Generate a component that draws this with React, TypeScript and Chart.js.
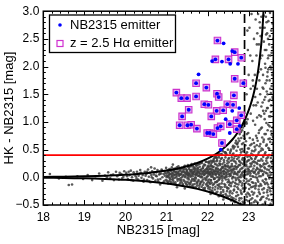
import React, { useEffect, useRef } from 'react';
import { Chart, registerables } from 'chart.js';

Chart.register(...registerables);

const FONT = "'Liberation Sans', Arial, Helvetica, sans-serif";

// axis ticks
const xTicks = [18, 19, 20, 21, 22, 23];
const xMinorTicks = [18.2, 18.4, 18.6, 18.8, 19.2, 19.4, 19.6, 19.8, 20.2, 20.4, 20.6, 20.8, 21.2, 21.4, 21.6, 21.8, 22.2, 22.4, 22.6, 22.8, 23.2, 23.4];
const yTicks = [-0.5, 0, 0.5, 1, 1.5, 2, 2.5, 3];
const yTickLabels = ['−0.5', '0.0', '0.5', '1.0', '1.5', '2.0', '2.5', '3.0'];
const yMinorTicks = [-0.4, -0.3, -0.2, -0.1, 0.1, 0.2, 0.3, 0.4, 0.6, 0.7, 0.8, 0.9, 1.1, 1.2, 1.3, 1.4, 1.6, 1.7, 1.8, 1.9, 2.1, 2.2, 2.3, 2.4, 2.6, 2.7, 2.8, 2.9];

// NB2315 emitters (blue dots)
const nbMag = [22.24, 22.39, 22.60, 22.66, 22.82, 22.11, 22.19, 22.35, 22.51, 22.55, 22.74, 21.78, 22.66, 21.72, 21.97, 21.24, 21.36, 21.50, 21.72, 22.23, 22.27, 22.64, 22.87, 21.92, 22.02, 22.48, 22.62, 22.77, 22.22, 22.38, 22.60, 21.54, 21.38, 22.09, 22.44, 22.54, 22.71, 22.82, 21.32, 21.51, 21.60, 21.74, 22.24, 22.32, 22.71, 22.54, 22.78, 21.99, 22.05, 22.14, 22.35, 22.32];
const nbColor = [2.47, 2.42, 2.28, 2.26, 2.16, 2.10, 2.13, 2.09, 2.13, 2.05, 2.05, 1.86, 1.78, 1.70, 1.62, 1.53, 1.43, 1.43, 1.46, 1.51, 1.45, 1.48, 1.70, 1.32, 1.31, 1.32, 1.31, 1.25, 1.20, 1.21, 1.20, 1.22, 1.10, 1.10, 1.05, 0.96, 1.03, 1.12, 0.94, 0.94, 0.95, 0.88, 0.89, 0.92, 0.87, 0.80, 0.93, 0.80, 0.80, 0.78, 0.62, 0.50];

// z = 2.5 Halpha emitters (squares)
const haMag = [22.24, 22.66, 22.82, 22.19, 22.51, 22.66, 21.72, 21.97, 21.24, 21.36, 21.50, 21.72, 22.23, 22.27, 22.64, 22.87, 21.92, 22.02, 22.48, 22.62, 22.22, 22.38, 21.54, 21.38, 22.09, 22.54, 22.71, 22.82, 21.32, 21.51, 21.60, 21.74, 22.24, 22.32, 22.71, 21.99, 22.05, 22.14, 22.35];
const haColor = [2.47, 2.26, 2.16, 2.13, 2.13, 1.78, 1.70, 1.62, 1.53, 1.43, 1.43, 1.46, 1.51, 1.45, 1.48, 1.70, 1.32, 1.31, 1.32, 1.31, 1.20, 1.21, 1.22, 1.10, 1.10, 0.96, 1.03, 1.12, 0.94, 0.94, 0.95, 0.88, 0.89, 0.92, 0.87, 0.80, 0.80, 0.78, 0.62];

// significance curves
const curveMag = [18, 18.5, 19, 19.5, 20, 20.5, 21, 21.25, 21.5, 21.75, 22, 22.15, 22.3, 22.45, 22.6, 22.7, 22.8, 22.85, 22.9, 22.95, 23.0, 23.05, 23.1, 23.15, 23.2, 23.25, 23.3, 23.33, 23.36, 23.38];
const curveUpper = [0.007, 0.012, 0.019, 0.029, 0.047, 0.075, 0.122, 0.156, 0.201, 0.259, 0.338, 0.398, 0.472, 0.563, 0.678, 0.773, 0.888, 0.954, 1.03, 1.114, 1.209, 1.319, 1.448, 1.601, 1.788, 2.028, 2.353, 2.614, 2.981, 3.32];
const curveLowerMag = [18, 18.5, 19, 19.5, 20, 20.5, 21, 21.25, 21.5, 21.75, 22, 22.15, 22.3, 22.45, 22.6, 22.7, 22.8, 22.85, 22.9];
const curveLower = [-0.007, -0.012, -0.018, -0.029, -0.045, -0.071, -0.110, -0.137, -0.169, -0.209, -0.257, -0.291, -0.328, -0.369, -0.414, -0.447, -0.482, -0.5, -0.519];

const colorCut = 0.4;
const magLimit = 22.9;
const xRange = [18, 23.6];
const yRange = [-0.5, 3.0];

// all detected objects (gray), [mag, color]
const cloudBright = [
  [18.16, 0.06], [18.38, -0.02], [18.55, 0.01], [18.62, -0.14], [18.7, -0.13], [18.83, 0.02], [18.97, -0.03], [19.08, 0.04], [19.19, -0.05], [19.27, 0.02], [19.36, 0.07], [19.44, -0.06], [19.5, 0.03], [19.58, 0.09], [19.63, -0.02], [19.7, 0.05], [19.77, 0.1], [19.84, -0.04], [19.9, 0.06], [19.95, 0.01],
  [20.02, 0.08], [20.06, -0.03], [20.1, 0.04], [20.13, 0.12], [20.16, 0.0], [20.19, -0.06], [20.22, 0.05], [20.25, 0.02], [20.28, 0.1], [20.31, -0.04], [20.34, 0.07], [20.36, 0.13], [20.39, -0.01], [20.42, 0.04], [20.44, -0.08], [20.47, 0.1], [20.49, 0.03],
  [19.55, 0.0], [19.65, 0.04], [19.72, -0.05], [19.8, 0.02], [19.86, 0.08], [19.92, -0.02], [19.97, 0.11], [20.04, 0.02], [20.08, 0.1], [20.14, -0.05], [20.2, 0.09], [20.27, -0.02], [20.32, 0.03], [20.38, 0.08], [20.45, -0.04],
];
const cloudMid = [
  [20.51, 0.06], [20.53, -0.05], [20.55, 0.14], [20.57, 0.01], [20.59, 0.08], [20.61, -0.09], [20.63, 0.04], [20.65, 0.11], [20.67, -0.02], [20.69, 0.05], [20.71, 0.16], [20.73, -0.06], [20.75, 0.09], [20.76, 0.02], [20.78, 0.13], [20.8, -0.07], [20.82, 0.05], [20.83, 0.1], [20.85, -0.03], [20.87, 0.07], [20.88, 0.14], [20.9, 0.0], [20.92, -0.1], [20.93, 0.06], [20.95, 0.11], [20.96, 0.03], [20.98, -0.05], [20.99, 0.17],
  [20.52, 0.1], [20.58, -0.07], [20.64, 0.0], [20.7, 0.09], [20.74, 0.03], [20.79, -0.04], [20.84, 0.06], [20.89, 0.12], [20.94, -0.07], [20.97, 0.08],
  [21.0, 0.07], [21.01, -0.06], [21.02, 0.12], [21.03, 0.02], [21.04, -0.11], [21.05, 0.09], [21.06, 0.04], [21.07, 0.15], [21.08, -0.02], [21.09, 0.06], [21.1, -0.08], [21.11, 0.11], [21.12, 0.01], [21.13, 0.18], [21.14, -0.04], [21.15, 0.08], [21.16, 0.13], [21.17, -0.1], [21.18, 0.05], [21.19, 0.1], [21.2, -0.01], [21.21, 0.16], [21.22, 0.05], [21.23, -0.13], [21.24, 0.09], [21.25, 0.03], [21.26, 0.14], [21.27, -0.06], [21.28, 0.07], [21.29, 0.2], [21.3, -0.03], [21.31, 0.11], [21.32, 0.04], [21.33, -0.11], [21.34, 0.13], [21.35, 0.06], [21.36, -0.05], [21.37, 0.17], [21.38, 0.0], [21.39, 0.09], [21.4, -0.14], [21.41, 0.12], [21.42, 0.04], [21.43, 0.19], [21.44, -0.07], [21.45, 0.08], [21.46, 0.02], [21.47, 0.15], [21.48, -0.12], [21.49, 0.06],
  [21.005, 0.0], [21.035, 0.09], [21.065, -0.07], [21.095, 0.14], [21.125, 0.04], [21.155, -0.02], [21.185, 0.12], [21.215, -0.09], [21.245, 0.06], [21.275, 0.16], [21.305, 0.03], [21.335, -0.06], [21.365, 0.1], [21.395, -0.12], [21.425, 0.15], [21.455, 0.0], [21.485, 0.09], [20.625, 0.18], [20.845, -0.13], [21.155, 0.23], [21.255, -0.18], [21.445, -0.2],
  [21.012, 0.03], [21.028, -0.08], [21.043, 0.1], [21.058, 0.0], [21.074, 0.06], [21.089, -0.04], [21.104, 0.13], [21.118, -0.1], [21.133, 0.07], [21.149, 0.02], [21.163, -0.06], [21.178, 0.15], [21.193, 0.04], [21.207, -0.12], [21.222, 0.1], [21.237, 0.0], [21.252, 0.18], [21.266, -0.03], [21.281, 0.09], [21.296, -0.14], [21.311, 0.06], [21.326, 0.14], [21.341, -0.02], [21.356, 0.05], [21.371, -0.09], [21.386, 0.16], [21.401, 0.03], [21.416, -0.05], [21.431, 0.1], [21.446, 0.21], [21.461, -0.1], [21.476, 0.05], [21.491, 0.13],
];
const cloudFaint = [
  [21.5, 0.12], [21.51, -0.02], [21.52, 0.22], [21.53, 0.04], [21.54, -0.1], [21.55, 0.15], [21.56, 0.07], [21.57, -0.17], [21.58, 0.1], [21.59, 0.01], [21.6, 0.2], [21.61, -0.06], [21.62, 0.08], [21.63, 0.14], [21.64, -0.13], [21.65, 0.05], [21.66, 0.18], [21.67, -0.03], [21.68, 0.11], [21.69, 0.25], [21.7, 0.0], [21.71, -0.18], [21.72, 0.08], [21.73, 0.16], [21.74, -0.09], [21.75, 0.12], [21.76, 0.03], [21.77, 0.23], [21.78, -0.05], [21.79, 0.1], [21.8, -0.15], [21.81, 0.19], [21.82, 0.06], [21.83, -0.1], [21.84, 0.14], [21.85, 0.02], [21.86, 0.26], [21.87, -0.07], [21.88, 0.09], [21.89, 0.17], [21.9, -0.2], [21.91, 0.04], [21.92, 0.12], [21.93, -0.02], [21.94, 0.22], [21.95, 0.07], [21.96, -0.13], [21.97, 0.15], [21.98, 0.01], [21.99, 0.1],
  [21.505, -0.08], [21.515, 0.09], [21.525, 0.03], [21.535, 0.18], [21.545, -0.04], [21.555, 0.06], [21.565, -0.13], [21.575, 0.13], [21.585, 0.2], [21.595, -0.08], [21.605, 0.04], [21.615, 0.11], [21.625, -0.16], [21.635, 0.02], [21.645, 0.21], [21.655, 0.08], [21.665, -0.06], [21.675, 0.15], [21.685, -0.12], [21.695, 0.05], [21.705, 0.13], [21.715, -0.02], [21.725, 0.21], [21.735, 0.06], [21.745, -0.15], [21.755, 0.1], [21.765, 0.17], [21.775, -0.07], [21.785, 0.03], [21.795, 0.24], [21.805, 0.08], [21.815, -0.12], [21.825, 0.13], [21.835, 0.0], [21.845, 0.27], [21.855, -0.17], [21.865, 0.06], [21.875, 0.16], [21.885, -0.04], [21.895, 0.11], [21.905, -0.1], [21.915, 0.23], [21.925, 0.05], [21.935, -0.19], [21.945, 0.13], [21.955, -0.05], [21.965, 0.28], [21.975, 0.08], [21.985, -0.11], [21.995, 0.18],
  [21.506, -0.14], [21.521, 0.07], [21.536, -0.01], [21.551, 0.19], [21.566, 0.03], [21.581, -0.11], [21.596, 0.12], [21.611, 0.24], [21.626, -0.03], [21.641, 0.07], [21.656, -0.17], [21.671, 0.1], [21.686, 0.17], [21.701, -0.06], [21.716, 0.04], [21.731, 0.22], [21.746, -0.11], [21.761, 0.08], [21.776, 0.14], [21.791, -0.19], [21.806, 0.02], [21.821, 0.25], [21.836, -0.08], [21.851, 0.11], [21.866, 0.0], [21.881, -0.14], [21.896, 0.2], [21.911, 0.07], [21.926, -0.22], [21.941, 0.1], [21.956, 0.28], [21.971, -0.02], [21.986, 0.15], [21.998, -0.16],
];
const cloudMedium = [
  [22.0, 0.12], [22.01, -0.15], [22.02, 0.05], [22.03, 0.28], [22.04, -0.04], [22.05, 0.16], [22.06, -0.22], [22.07, 0.09], [22.08, 0.3], [22.09, 0.01], [22.1, -0.1], [22.11, 0.2], [22.12, 0.06], [22.13, -0.27], [22.14, 0.13], [22.15, 0.33], [22.16, -0.03], [22.17, 0.1], [22.18, 0.24], [22.19, -0.17], [22.2, 0.04], [22.21, 0.17], [22.22, -0.08], [22.23, 0.31], [22.24, 0.07], [22.25, -0.2], [22.26, 0.14], [22.27, 0.0], [22.28, 0.42], [22.29, -0.12], [22.3, 0.22], [22.31, 0.08], [22.32, -0.3], [22.33, 0.15], [22.34, 0.03], [22.35, 0.35], [22.36, -0.06], [22.37, 0.19], [22.38, -0.23], [22.39, 0.11], [22.4, 0.27], [22.41, -0.01], [22.42, 0.45], [22.43, -0.14], [22.44, 0.09], [22.45, 0.2], [22.46, -0.33], [22.47, 0.05], [22.48, 0.3], [22.49, -0.09],
  [22.005, 0.02], [22.015, 0.21], [22.025, -0.09], [22.035, 0.1], [22.045, 0.28], [22.055, -0.18], [22.065, 0.04], [22.075, 0.15], [22.085, -0.05], [22.095, 0.26], [22.105, 0.08], [22.115, -0.24], [22.125, 0.18], [22.135, 0.0], [22.145, 0.3], [22.155, -0.12], [22.165, 0.11], [22.175, -0.02], [22.185, 0.37], [22.195, 0.06], [22.205, -0.28], [22.215, 0.23], [22.225, 0.1], [22.235, -0.07], [22.245, 0.16], [22.255, 0.4], [22.265, -0.15], [22.275, 0.05], [22.285, 0.25], [22.295, -0.02], [22.305, 0.13], [22.315, -0.21], [22.325, 0.33], [22.335, 0.07], [22.345, -0.11], [22.355, 0.18], [22.365, 0.02], [22.375, 0.47], [22.385, -0.26], [22.395, 0.12], [22.405, 0.06], [22.415, -0.17], [22.425, 0.22], [22.435, 0.36], [22.445, -0.04], [22.455, 0.14], [22.465, 0.01], [22.475, -0.25], [22.485, 0.19], [22.495, 0.5],
  [22.0025, -0.06], [22.0225, 0.19], [22.0425, 0.07], [22.0625, -0.12], [22.0825, 0.22], [22.1025, 0.14], [22.1225, -0.19], [22.1425, 0.05], [22.1625, 0.28], [22.1825, -0.09], [22.2025, 0.12], [22.2225, 0.35], [22.2425, -0.14], [22.2625, 0.09], [22.2825, -0.04], [22.3025, 0.29], [22.3225, 0.01], [22.3425, -0.18], [22.3625, 0.24], [22.3825, 0.1], [22.4025, -0.36], [22.4225, 0.16], [22.4425, 0.03], [22.4625, 0.41], [22.4825, -0.2], [22.0125, 0.27], [22.0725, -0.3], [22.1325, 0.3], [22.2725, -0.34], [22.3325, 0.42], [22.4325, 0.45], [22.3825, -0.4], [22.2125, 0.36],
  [22.008, 0.08], [22.018, -0.2], [22.028, 0.14], [22.038, 0.25], [22.048, -0.1], [22.058, 0.06], [22.068, 0.2], [22.078, -0.06], [22.088, 0.11], [22.098, -0.25], [22.108, 0.03], [22.118, 0.28], [22.128, -0.14], [22.138, 0.09], [22.148, 0.19], [22.158, -0.03], [22.168, 0.35], [22.178, -0.22], [22.188, 0.07], [22.198, 0.15], [22.208, -0.09], [22.218, 0.29], [22.228, 0.0], [22.238, -0.26], [22.248, 0.21], [22.258, 0.11], [22.268, -0.05], [22.278, 0.36], [22.288, 0.04], [22.298, -0.17], [22.308, 0.24], [22.318, 0.13], [22.328, -0.27], [22.338, 0.1], [22.348, 0.41], [22.358, -0.02], [22.368, 0.17], [22.378, -0.32], [22.388, 0.06], [22.398, 0.31], [22.408, -0.12], [22.418, 0.2], [22.428, 0.0], [22.438, -0.3], [22.448, 0.44], [22.458, 0.08], [22.468, -0.18], [22.478, 0.25], [22.488, 0.13], [22.498, -0.35],
];
const cloudLimit = [
  [22.5, 0.1], [22.51, -0.2], [22.52, 0.35], [22.53, 0.02], [22.54, -0.33], [22.55, 0.18], [22.56, 0.07], [22.57, 0.5], [22.58, -0.11], [22.59, 0.24], [22.6, -0.02], [22.61, 0.41], [22.62, 0.13], [22.63, -0.38], [22.64, 0.06], [22.65, 0.29], [22.66, -0.16], [22.67, 0.2], [22.68, 0.62], [22.69, -0.05], [22.7, 0.15], [22.71, -0.27], [22.72, 0.33], [22.73, 0.04], [22.74, 0.55], [22.75, -0.13], [22.76, 0.22], [22.77, -0.42], [22.78, 0.11], [22.79, 0.4], [22.8, -0.07], [22.81, 0.26], [22.82, 0.71], [22.83, -0.3], [22.84, 0.08], [22.85, 0.17], [22.86, -0.2], [22.87, 0.47], [22.88, 0.01], [22.89, 0.3], [22.9, -0.46], [22.91, 0.12], [22.92, 0.58], [22.93, -0.1], [22.94, 0.23], [22.95, 0.05], [22.96, -0.35], [22.97, 0.37], [22.98, 0.16], [22.99, 0.8],
  [22.505, -0.04], [22.515, 0.27], [22.525, -0.14], [22.535, 0.12], [22.545, 0.44], [22.555, -0.25], [22.565, 0.03], [22.575, 0.2], [22.585, -0.36], [22.595, 0.09], [22.605, 0.31], [22.615, -0.08], [22.625, 0.57], [22.635, 0.16], [22.645, -0.22], [22.655, 0.1], [22.665, 0.38], [22.675, -0.01], [22.685, -0.4], [22.695, 0.25], [22.705, 0.48], [22.715, 0.07], [22.725, -0.18], [22.735, 0.19], [22.745, -0.32], [22.755, 0.36], [22.765, 0.0], [22.775, 0.66], [22.785, -0.09], [22.795, 0.14], [22.805, -0.24], [22.815, 0.45], [22.825, 0.05], [22.835, -0.15], [22.845, 0.32], [22.855, -0.44], [22.865, 0.1], [22.875, 0.75], [22.885, -0.26], [22.895, 0.2], [22.905, 0.04], [22.915, 0.39], [22.925, -0.19], [22.935, 0.65], [22.945, -0.03], [22.955, 0.28], [22.965, 0.1], [22.975, -0.28], [22.985, 0.52], [22.995, -0.12],
  [22.5025, 0.21], [22.5225, 0.06], [22.5425, -0.1], [22.5625, 0.3], [22.5825, 0.14], [22.6025, -0.29], [22.6225, 0.01], [22.6425, 0.34], [22.6625, 0.08], [22.6825, 0.19], [22.7025, -0.12], [22.7225, 0.6], [22.7425, 0.1], [22.7625, -0.05], [22.7825, 0.28], [22.8025, 0.03], [22.8225, -0.38], [22.8425, 0.51], [22.8625, 0.24], [22.8825, -0.06], [22.9025, 0.33], [22.9225, 0.14], [22.9425, -0.41], [22.9625, 0.45], [22.9825, 0.06], [22.5725, -0.42], [22.6325, 0.52], [22.7525, 0.7], [22.8125, 0.82], [22.8625, 0.9], [22.9125, 0.98], [22.9525, 0.97], [22.8925, 0.95], [22.7825, 0.78], [22.6925, 0.66], [22.9725, 1.05], [22.8425, 0.85], [22.7125, 0.6], [22.9425, 1.0], [22.8725, 0.62], [22.6125, 0.55], [22.6625, -0.45],
  [22.508, 0.33], [22.518, -0.07], [22.528, 0.17], [22.538, -0.28], [22.548, 0.05], [22.558, 0.47], [22.568, -0.16], [22.578, 0.12], [22.588, 0.36], [22.598, -0.4], [22.608, 0.2], [22.618, 0.0], [22.628, 0.43], [22.638, -0.24], [22.648, 0.15], [22.658, 0.55], [22.668, -0.1], [22.678, 0.28], [22.688, 0.06], [22.698, -0.34], [22.708, 0.39], [22.718, 0.18], [22.728, -0.02], [22.738, 0.63], [22.748, -0.21], [22.758, 0.09], [22.768, 0.3], [22.778, -0.38], [22.788, 0.22], [22.798, 0.5], [22.808, 0.0], [22.818, -0.28], [22.828, 0.16], [22.838, 0.6], [22.848, -0.11], [22.858, 0.35], [22.868, 0.03], [22.878, -0.47], [22.888, 0.27], [22.898, 0.7], [22.908, -0.2], [22.918, 0.1], [22.928, 0.42], [22.938, -0.31], [22.948, 0.2], [22.958, 0.78], [22.968, -0.07], [22.978, 0.3], [22.988, -0.43], [22.998, 0.12],
];
const cloudDeep = [
  [23.0, 0.14], [23.012, -0.21], [23.024, 0.38], [23.036, 0.03], [23.048, -0.4], [23.06, 0.2], [23.072, 0.6], [23.084, -0.09], [23.096, 0.27], [23.108, -0.31], [23.12, 0.09], [23.132, 0.47], [23.144, -0.16], [23.156, 0.33], [23.168, 0.0], [23.18, 0.75], [23.192, -0.44], [23.204, 0.17], [23.216, -0.05], [23.228, 0.41], [23.24, 0.07], [23.252, -0.27], [23.264, 0.56], [23.276, 0.22], [23.288, -0.12], [23.3, 0.88], [23.312, 0.11], [23.324, -0.36], [23.336, 0.3], [23.348, 0.04], [23.36, 0.64], [23.372, -0.2], [23.384, 0.18], [23.396, -0.47], [23.408, 0.45], [23.42, 0.08], [23.432, 0.98], [23.444, -0.1], [23.456, 0.26], [23.468, -0.33], [23.48, 0.53], [23.492, 0.13], [23.504, -0.02], [23.516, 0.7], [23.528, -0.25], [23.54, 0.35], [23.552, 0.05], [23.564, -0.42], [23.576, 0.19], [23.588, 0.62],
  [23.006, 0.52], [23.018, 0.09], [23.03, -0.14], [23.042, 0.25], [23.054, -0.03], [23.066, 0.43], [23.078, -0.26], [23.09, 0.12], [23.102, 0.68], [23.114, 0.01], [23.126, -0.45], [23.138, 0.21], [23.15, 0.1], [23.162, -0.2], [23.174, 0.36], [23.186, 0.05], [23.198, 0.58], [23.21, -0.34], [23.222, 0.15], [23.234, -0.08], [23.246, 0.8], [23.258, 0.02], [23.27, 0.3], [23.282, -0.41], [23.294, 0.48], [23.306, -0.15], [23.318, 0.2], [23.33, 0.72], [23.342, -0.06], [23.354, 0.37], [23.366, -0.28], [23.378, 0.1], [23.39, 1.05], [23.402, -0.12], [23.414, 0.24], [23.426, 0.57], [23.438, -0.38], [23.45, 0.14], [23.462, 0.85], [23.474, 0.03], [23.486, -0.18], [23.498, 0.4], [23.51, 0.92], [23.522, 0.09], [23.534, -0.48], [23.546, 0.28], [23.558, 0.77], [23.57, -0.07], [23.582, 0.44], [23.594, 0.15],
  [23.003, -0.3], [23.027, 0.71], [23.051, 0.11], [23.075, 0.33], [23.099, -0.17], [23.123, 0.29], [23.147, 0.55], [23.171, -0.11], [23.195, 0.26], [23.219, 0.66], [23.243, -0.22], [23.267, 0.12], [23.291, 0.19], [23.315, 0.52], [23.339, -0.49], [23.363, 0.23], [23.387, 0.78], [23.411, -0.03], [23.435, 0.34], [23.459, -0.23], [23.483, 0.69], [23.507, 0.21], [23.531, 1.1], [23.555, -0.11], [23.579, 0.9], [23.062, -0.47], [23.158, 0.95], [23.258, 1.12], [23.352, 1.2], [23.448, 1.25], [23.545, 1.3], [23.108, 1.02], [23.205, 1.08],
  [23.006, 0.31], [23.015, -0.06], [23.021, 0.19], [23.033, -0.33], [23.039, 0.58], [23.045, 0.07], [23.057, 0.35], [23.063, -0.18], [23.069, 0.24], [23.081, 0.48], [23.087, -0.38], [23.093, 0.02], [23.105, 0.4], [23.111, -0.1], [23.117, 0.16], [23.129, 0.62], [23.135, -0.28], [23.141, 0.08], [23.153, 0.27], [23.159, -0.42], [23.165, 0.5], [23.177, 0.13], [23.183, -0.15], [23.189, 0.38], [23.201, 0.71], [23.207, -0.01], [23.213, 0.24], [23.225, -0.46], [23.231, 0.3], [23.237, 0.09], [23.249, 0.45], [23.255, -0.16], [23.261, 0.85], [23.273, -0.3], [23.279, 0.14], [23.285, 0.6], [23.297, 0.02], [23.303, -0.39], [23.309, 0.33], [23.321, 0.9], [23.327, 0.12], [23.333, -0.22], [23.345, 0.5], [23.351, 0.06], [23.357, -0.35], [23.369, 0.68], [23.375, 0.25], [23.381, -0.09], [23.393, 0.42], [23.399, 0.16], [23.405, -0.44], [23.417, 0.78], [23.423, -0.04], [23.429, 0.3], [23.441, 0.59], [23.447, -0.27], [23.453, 0.07], [23.465, 0.36], [23.471, -0.13], [23.477, 0.95], [23.489, 0.2], [23.495, -0.4], [23.501, 0.51], [23.513, 0.03], [23.519, -0.2], [23.525, 0.64], [23.537, 0.17], [23.543, -0.31], [23.549, 0.83], [23.561, 0.4], [23.567, -0.02], [23.573, 0.25], [23.585, -0.17], [23.591, 0.73], [23.597, 0.31],
];
const cloudHigh = [
  [23.05, 1.15], [23.12, 1.3], [23.16, 1.45], [23.2, 1.6], [23.22, 1.35], [23.26, 1.75], [23.28, 1.5], [23.3, 1.95], [23.31, 1.28], [23.33, 2.2], [23.34, 1.62], [23.35, 1.85], [23.37, 2.45], [23.38, 1.4], [23.39, 2.7], [23.4, 2.05], [23.41, 1.7], [23.42, 2.9], [23.43, 2.3], [23.44, 1.55], [23.45, 2.6], [23.46, 1.9], [23.47, 2.15], [23.48, 2.82], [23.49, 1.38], [23.5, 2.4], [23.51, 1.75], [23.52, 2.97], [23.53, 2.0], [23.54, 1.52], [23.55, 2.65], [23.56, 2.25], [23.57, 1.85], [23.58, 2.78], [23.59, 1.42], [23.595, 2.5], [23.365, 2.92], [23.395, 2.3], [23.425, 2.58], [23.455, 1.82], [23.485, 2.2], [23.515, 2.55], [23.545, 1.95], [23.575, 2.35], [23.405, 1.45], [23.465, 1.25], [23.525, 1.6], [23.585, 2.05], [23.435, 2.8], [23.345, 2.7], [23.24, 1.9], [23.18, 1.3], [23.285, 2.15],
  [23.3, 1.1], [23.34, 1.35], [23.38, 1.15], [23.42, 1.2], [23.46, 1.5], [23.5, 1.1], [23.54, 1.18], [23.58, 1.45], [23.36, 1.6], [23.44, 1.75], [23.52, 1.4], [23.56, 1.65], [23.48, 1.95], [23.41, 1.98], [23.53, 2.2], [23.47, 2.5],
  [22.95, 1.5], [22.98, 2.3], [23.0, 1.85], [23.02, 2.7], [23.05, 1.6], [23.07, 2.95], [23.09, 2.1], [23.1, 1.75], [23.13, 2.5], [23.15, 1.85], [23.17, 2.85], [23.19, 2.2], [23.21, 2.6], [23.23, 2.95], [23.25, 2.4], [23.27, 2.8], [23.29, 2.55], [23.31, 2.9], [22.97, 2.65], [23.04, 2.2], [23.11, 1.65], [23.2, 2.4], [23.28, 2.7],
];

const legendLabels = ['NB2315 emitter', 'z = 2.5 Hα emitter'];

const toPts = (xs: number[], ys: number[]) => xs.map((x, i) => ({ x, y: ys[i] }));
const pairPts = (arr: number[][]) => arr.map(([x, y]) => ({ x, y }));

const framePlugin = {
  id: 'frameTicks',
  afterDatasetsDraw(chart: any) {
    const { ctx, chartArea: a, scales } = chart;
    const xs = scales.x, ys = scales.y;
    ctx.save();
    ctx.strokeStyle = '#000';
    ctx.lineWidth = 1;
    const seg = (x1: number, y1: number, x2: number, y2: number) => {
      ctx.beginPath(); ctx.moveTo(x1, y1); ctx.lineTo(x2, y2); ctx.stroke();
    };
    xMinorTicks.forEach((v) => { const p = Math.round(xs.getPixelForValue(v)) + 0.5; seg(p, a.bottom, p, a.bottom - 2.5); seg(p, a.top, p, a.top + 2.5); });
    xTicks.forEach((v) => { const p = Math.round(xs.getPixelForValue(v)) + 0.5; seg(p, a.bottom, p, a.bottom - 5); seg(p, a.top, p, a.top + 5); });
    yMinorTicks.forEach((v) => { const p = Math.round(ys.getPixelForValue(v)) + 0.5; seg(a.left, p, a.left + 2.5, p); seg(a.right, p, a.right - 2.5, p); });
    yTicks.forEach((v) => { const p = Math.round(ys.getPixelForValue(v)) + 0.5; seg(a.left, p, a.left + 5, p); seg(a.right, p, a.right - 5, p); });
    ctx.lineWidth = 1.5;
    ctx.strokeRect(a.left, a.top, a.right - a.left, a.bottom - a.top);

    // legend box
    const lx = 49.5, ly = 15, lw = 126, lh = 37.5;
    ctx.fillStyle = '#fff';
    ctx.fillRect(lx, ly, lw, lh);
    ctx.lineWidth = 1.3;
    ctx.strokeRect(lx, ly, lw, lh);
    ctx.fillStyle = '#0000ff';
    ctx.beginPath(); ctx.arc(60, 25, 1.8, 0, Math.PI * 2); ctx.fill();
    ctx.strokeStyle = '#d030d0';
    ctx.lineWidth = 1.2;
    ctx.strokeRect(57, 40.5, 6, 6);
    ctx.fillStyle = '#000';
    ctx.font = `13px ${FONT}`;
    ctx.textBaseline = 'middle';
    ctx.textAlign = 'left';
    ctx.fillText(legendLabels[0], 70, 25.5);
    ctx.fillText(legendLabels[1], 70, 43.5);
    ctx.restore();
  },
};

export default function App() {
  const ref = useRef<HTMLCanvasElement | null>(null);
  useEffect(() => {
    if (!ref.current) return;
    const gray = 'rgba(60,60,60,0.85)';
    const cloudStyle = { pointRadius: 1.3, pointBackgroundColor: gray, pointBorderWidth: 0, showLine: false };
    const chart = new Chart(ref.current, {
      type: 'scatter',
      data: {
        datasets: [
          { label: legendLabels[0], data: toPts(nbMag, nbColor), pointRadius: 1.9, pointBackgroundColor: '#0000ff', pointBorderWidth: 0, showLine: false } as any,
          { label: legendLabels[1], data: toPts(haMag, haColor), pointStyle: 'rect', pointRadius: 4.6, pointBackgroundColor: 'rgba(215,140,235,0.75)', pointBorderColor: '#cc33cc', pointBorderWidth: 1.1, showLine: false },
          { label: 'cut', data: toPts(xRange, [colorCut, colorCut]), showLine: true, borderColor: '#ff0000', borderWidth: 1.8, pointRadius: 0 },
          { label: 'upper', data: toPts(curveMag, curveUpper), showLine: true, borderColor: '#000', borderWidth: 2, pointRadius: 0, tension: 0.3 },
          { label: 'lower', data: toPts(curveLowerMag, curveLower), showLine: true, borderColor: '#000', borderWidth: 2, pointRadius: 0, tension: 0.3 },
          { label: 'limit', data: toPts([magLimit, magLimit], yRange), showLine: true, borderColor: '#000', borderWidth: 1.7, borderDash: [9, 4], pointRadius: 0 },
          { label: 'all1', data: pairPts(cloudBright), ...cloudStyle },
          { label: 'all2', data: pairPts(cloudMid), ...cloudStyle },
          { label: 'all3', data: pairPts(cloudFaint), ...cloudStyle },
          { label: 'all4', data: pairPts(cloudMedium), ...cloudStyle },
          { label: 'all5', data: pairPts(cloudLimit), ...cloudStyle },
          { label: 'all6', data: pairPts(cloudDeep), ...cloudStyle },
          { label: 'all7', data: pairPts(cloudHigh), ...cloudStyle },
        ],
      },
      options: {
        animation: false,
        responsive: false,
        devicePixelRatio: 1,
        layout: { padding: { left: 0, top: 9.5, right: 10.7, bottom: 0 } },
        plugins: { legend: { display: false }, tooltip: { enabled: false } },
        scales: {
          x: {
            type: 'linear', min: xRange[0], max: xRange[1],
            afterBuildTicks: (s: any) => { s.ticks = xTicks.map((v) => ({ value: v })); },
            afterFit: (s: any) => { s.height = 39; },
            grid: { display: false, drawTicks: false },
            border: { display: false },
            ticks: { color: '#000', font: { family: FONT, size: 12 }, padding: 5, maxRotation: 0, autoSkip: false, callback: (v: any) => String(v) },
            title: { display: true, text: 'NB2315 [mag]', color: '#000', font: { family: FONT, size: 13 }, padding: { top: 0, bottom: 6 } },
          },
          y: {
            type: 'linear', min: yRange[0], max: yRange[1],
            afterBuildTicks: (s: any) => { s.ticks = yTicks.map((v) => ({ value: v })); },
            afterFit: (s: any) => { s.width = 43.3; },
            grid: { display: false, drawTicks: false },
            border: { display: false },
            ticks: { color: '#000', font: { family: FONT, size: 12 }, padding: 4, autoSkip: false, callback: (v: any, i: number) => yTickLabels[i] },
            title: { display: true, text: 'HK - NB2315 [mag]', color: '#000', font: { family: FONT, size: 13 }, padding: { top: 2, bottom: 0 } },
          },
        },
      } as any,
      plugins: [framePlugin],
    });
    return () => chart.destroy();
  }, []);
  return (
    <div style={{ position: 'fixed', left: 0, top: 0, width: 284, height: 244, background: '#fff' }}>
      <canvas ref={ref} width={284} height={244} style={{ display: 'block' }} />
    </div>
  );
}
